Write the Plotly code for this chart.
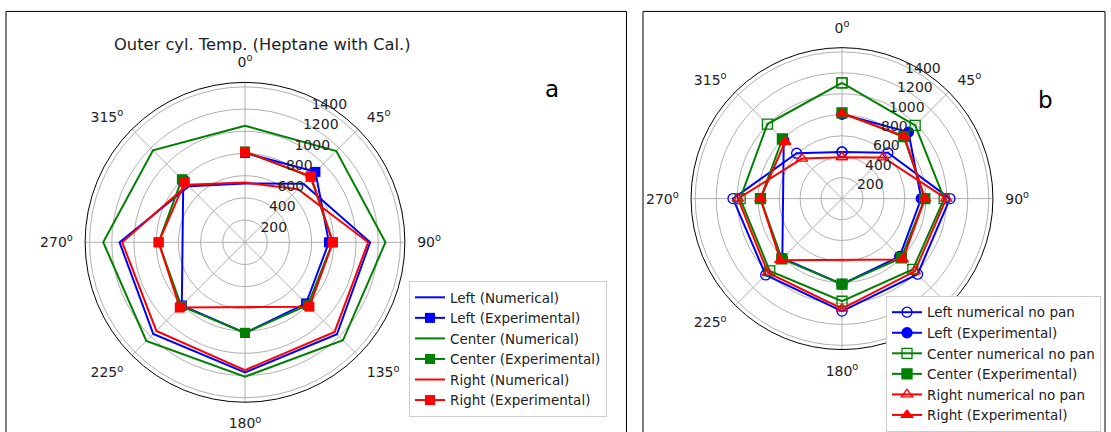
import plotly.graph_objects as go

W, H = 1111, 432

# Angular positions (degrees, clockwise from north)
angles = [0, 45, 90, 135, 180, 225, 270, 315]
angle_labels = ["0<sup>o</sup>", "45<sup>o</sup>", "90<sup>o</sup>", "135<sup>o</sup>",
                "180<sup>o</sup>", "225<sup>o</sup>", "270<sup>o</sup>", "315<sup>o</sup>"]
radial_ticks = [200, 400, 600, 800, 1000, 1200, 1400]

# Panel a: numerical temperatures
left_num = [530, 745, 1127, 1171, 1172, 1168, 1130, 715]
center_num = [1050, 1163, 1265, 1248, 1211, 1257, 1277, 1172]
right_num = [538, 676, 1109, 1141, 1151, 1129, 1106, 732]

# Experimental temperatures (None = no thermocouple reading)
left_exp = [805, 897, 756, 778, 816, 805, None, 786]
center_exp = [818, 835, 790, 800, 816, 812, 778, 804]
right_exp = [814, 840, 792, 820, None, 831, 778, 767]

# Panel b: numerical, no pan
left_nopan = [445, 618, 1030, 1020, 1073, 1030, 1040, 612]
center_nopan = [1105, 987, 975, 955, 979, 975, 972, 1006]
right_nopan = [395, 556, 995, 982, 1050, 1000, 993, 540]

BLUE, GREEN, RED = "#0000ff", "#008000", "#ff0000"
FONT = "DejaVu Sans"
R_MAX = 1440
RADIAL_ANGLE = 67.5  # 22.5 deg clockwise from north


def closed(vals):
    return list(vals) + [vals[0]]


def px_x(v):
    return v / W


def px_y(v):
    return 1 - v / H


fig = go.Figure()

# ---- panel a ----
panel_a = [
    ("Left (Numerical)", left_num, BLUE, None, True),
    ("Left (Experimental)", left_exp, BLUE, "square", False),
    ("Center (Numerical)", center_num, GREEN, None, True),
    ("Center (Experimental)", center_exp, GREEN, "square", False),
    ("Right (Numerical)", right_num, RED, None, True),
    ("Right (Experimental)", right_exp, RED, "square", False),
]
for name, vals, col, sym, close in panel_a:
    r = closed(vals) if close else vals
    th = closed(angles) if close else angles
    fig.add_trace(go.Scatterpolar(
        r=r, theta=th, name=name, subplot="polar", legend="legend",
        mode="lines+markers" if sym else "lines",
        connectgaps=True,
        line=dict(color=col, width=2),
        marker=dict(symbol=sym or "square", size=10, color=col),
    ))

# ---- panel b ----
panel_b = [
    ("Left numerical no pan", left_nopan, BLUE, "circle-open", True),
    ("Left (Experimental)", left_exp, BLUE, "circle", False),
    ("Center numerical no pan", center_nopan, GREEN, "square-open", True),
    ("Center (Experimental)", center_exp, GREEN, "square", False),
    ("Right numerical no pan", right_nopan, RED, "triangle-up-open", True),
    ("Right (Experimental)", right_exp, RED, "triangle-up", False),
]
for name, vals, col, sym, close in panel_b:
    r = closed(vals) if close else vals
    th = closed(angles) if close else angles
    fig.add_trace(go.Scatterpolar(
        r=r, theta=th, name=name, subplot="polar2", legend="legend2",
        mode="lines+markers", connectgaps=True,
        line=dict(color=col, width=2),
        marker=dict(symbol=sym, size=10, color=col,
                    line=dict(color=col, width=1.3)),
    ))


def polar_layout(cx, cy, rad):
    return dict(
        domain=dict(x=[px_x(cx - rad), px_x(cx + rad)],
                    y=[px_y(cy + rad), px_y(cy - rad)]),
        bgcolor="white",
        angularaxis=dict(
            rotation=90, direction="clockwise",
            tickmode="array", tickvals=angles, ticktext=angle_labels,
            showline=True, linecolor="black", linewidth=1,
            showgrid=True, gridcolor="#b0b0b0", gridwidth=0.8,
            ticks="outside", ticklen=9, tickcolor="rgba(0,0,0,0)",
            tickfont=dict(family=FONT, size=14, color="#222"),
        ),
        radialaxis=dict(
            range=[0, R_MAX], tickmode="array", tickvals=radial_ticks,
            showline=False, ticks="", angle=RADIAL_ANGLE, side="clockwise",
            tickangle=RADIAL_ANGLE,
            showgrid=True, gridcolor="#b0b0b0", gridwidth=0.8,
            tickfont=dict(family=FONT, size=14, color="#222"),
        ),
    )


legend_common = dict(
    bgcolor="white", bordercolor="#cccccc", borderwidth=1,
    font=dict(family=FONT, size=13.5, color="#222"),
    xanchor="left", yanchor="top", tracegroupgap=0,
)

fig.update_layout(
    width=W, height=H,
    margin=dict(l=0, r=0, t=0, b=0),
    paper_bgcolor="white",
    showlegend=True,
    polar=polar_layout(245, 244, 161),
    polar2=polar_layout(842, 200, 152),
    legend=dict(x=px_x(409), y=px_y(283), **legend_common),
    legend2=dict(x=px_x(886), y=px_y(298), **legend_common),
    shapes=[
        dict(type="rect", xref="paper", yref="paper",
             x0=px_x(6), x1=px_x(626.5), y0=-0.2, y1=px_y(11.5),
             line=dict(color="black", width=1)),
        dict(type="rect", xref="paper", yref="paper",
             x0=px_x(643), x1=px_x(1105), y0=-0.2, y1=px_y(11.5),
             line=dict(color="black", width=1)),
    ],
    annotations=[
        dict(text="Outer cyl. Temp. (Heptane with Cal.)", x=px_x(262), y=px_y(45),
             xref="paper", yref="paper", xanchor="center", yanchor="middle",
             showarrow=False, font=dict(family=FONT, size=16.3, color="#222")),
        dict(text="a", x=px_x(552), y=px_y(90), xref="paper", yref="paper",
             xanchor="center", yanchor="middle",
             showarrow=False, font=dict(family=FONT, size=23, color="black")),
        dict(text="b", x=px_x(1045), y=px_y(101), xref="paper", yref="paper",
             xanchor="center", yanchor="middle",
             showarrow=False, font=dict(family=FONT, size=23, color="black")),
    ],
)

fig.write_html("out.html")
